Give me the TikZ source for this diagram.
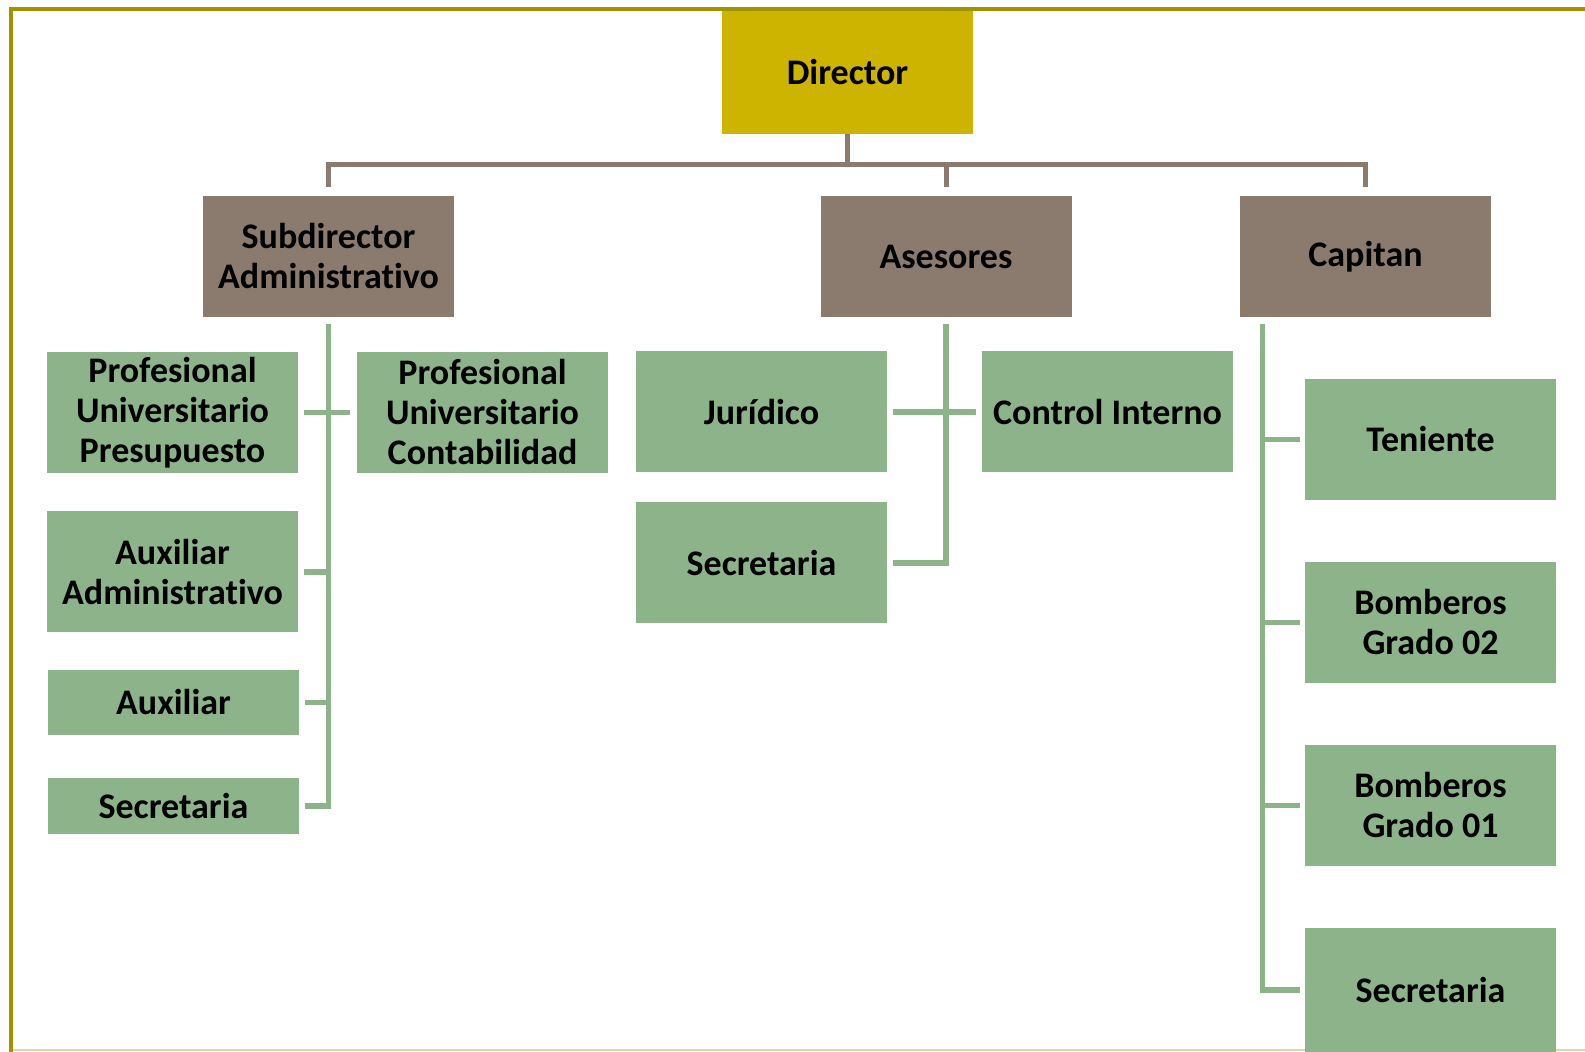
\documentclass[tikz,border=0pt]{standalone}
\usepackage{fontspec}
\setmainfont{Carlito}[Ligatures=NoCommon]
\usetikzlibrary{positioning,calc}
\definecolor{frameol}{HTML}{A29200}
\definecolor{framepale}{HTML}{DDD7A8}
\definecolor{dirfill}{HTML}{CCB400}
\definecolor{brnfill}{HTML}{8B7B6F}
\definecolor{grnfill}{HTML}{8DB38B}
\tikzset{
  box/.style={draw=none,minimum width=125.5pt,minimum height=60.5pt,inner sep=1pt,align=center,
    font=\bfseries\fontsize{18}{20}\selectfont,text=black},
  dirb/.style={box,fill=dirfill,minimum height=62pt},
  brnb/.style={box,fill=brnfill},
  grnb/.style={box,fill=grnfill},
  brn/.style={line width=2.5pt,color=brnfill},
  grn/.style={line width=2.6pt,color=grnfill},
  frame/.style={line width=2pt,color=frameol}
}
\begin{document}
\begin{tikzpicture}[x=0.5pt,y=-0.5pt]
  \useasboundingbox (0,0) rectangle (1585,1052);
  \draw[line width=1pt,color=framepale] (11,1050) -- (1585,1050);
  % director and first level
  \node[dirb] (dir) at (847.5,72)    {Director};
  \node[brnb] (sub) at (328.5,256.5) {Subdirector\\Administrativo};
  \node[brnb] (ase) at (946,256.5)   {Asesores};
  \node[brnb] (cap) at (1365.5,256.5){Capitan};
  \coordinate (bus) at (847.5,165);
  \foreach \n in {sub,ase,cap}{\draw[brn,shorten >=4.5pt] (dir) -- (dir |- bus) -| (\n);}
  % subdirector branch
  \node[grnb] (pp) at (172.5,412.5) {Profesional\\Universitario\\Presupuesto};
  \node[grnb] (pc) at (482.5,412.5) {Profesional\\Universitario\\Contabilidad};
  \node[grnb] (aa) at (172.5,572)   {Auxiliar\\Administrativo};
  \node[grnb,minimum height=32.5pt] (aux) at (173.5,702.5) {Auxiliar};
  \node[grnb,minimum height=28pt] (sa) at (173.5,806) {Secretaria};
  \draw[grn,shorten <=3.5pt,shorten >=3pt] (sub) -- (sub |- sa) -- (sa);
  \draw[grn,shorten <=3pt,shorten >=3.5pt] (pp) -- (pc);
  \foreach \n in {aa,aux}{\draw[grn,shorten >=3pt] (sub |- \n) -- (\n);}
  % asesores branch
  \node[grnb] (jur) at (761.5,412)  {Jurídico};
  \node[grnb] (ci)  at (1107.5,412) {Control Interno};
  \node[grnb] (sb)  at (761.5,563)  {Secretaria};
  \draw[grn,shorten <=3.5pt,shorten >=3pt] (ase) -- (ase |- sb) -- (sb);
  \draw[grn,shorten <=3pt,shorten >=3pt] (jur) -- (ci);
  % capitan branch
  \node[grnb] (ten) at (1430.5,439.5) {Teniente};
  \node[grnb] (b2)  at (1430.5,622.5) {Bomberos\\Grado 02};
  \node[grnb] (b1)  at (1430.5,805.5) {Bomberos\\Grado 01};
  \node[grnb,minimum height=62pt] (sc) at (1430.5,990) {Secretaria};
  \coordinate (capv) at ([xshift=11.5pt,yshift=-3.5pt]cap.south west);
  \draw[grn,shorten >=2.5pt] (capv) |- (sc);
  \foreach \n in {ten,b2,b1}{\draw[grn,shorten >=2.5pt] (capv |- \n) -- (\n);}
  % frame
  \draw[frame] (1585,9) -- (11,9) -- (11,1052);
\end{tikzpicture}
\end{document}
